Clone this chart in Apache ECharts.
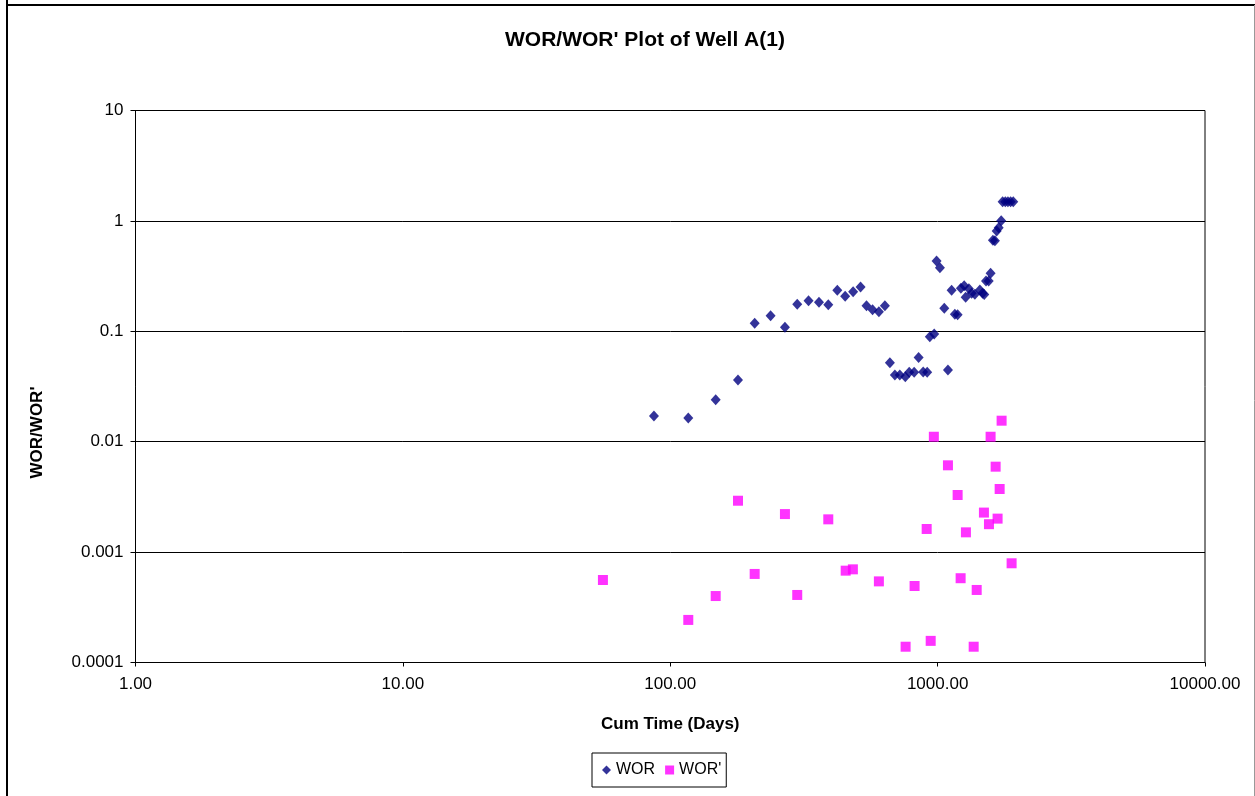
<!DOCTYPE html>
<html>
<head>
<meta charset="utf-8">
<script src="https://cdn.jsdelivr.net/npm/echarts@6/dist/echarts.min.js"></script>
<style>
html,body{margin:0;padding:0;background:#fff;}
#chart{width:1255px;height:796px;}
</style>
</head>
<body>
<div id="chart"></div>
<script>
// ---- Data ----
const worX = [86.9,116.8,147.9,179.2,206.9,237.3,268.5,298.5,329,360,390,421.5,451,483,515,542,571,603,635,663,692,722,757,783,817,849,883,914,935,971,991,1020,1059,1093,1128,1160,1188,1222,1257,1273,1309,1340,1378,1439,1473,1494,1517,1552,1578,1610,1638,1663,1692,1729,1750,1791,1832,1875,1918];
const worY = [0.0171,0.0164,0.0240,0.0362,0.118,0.138,0.109,0.176,0.189,0.183,0.174,0.235,0.2075,0.2285,0.252,0.1706,0.157,0.1506,0.1706,0.052,0.0402,0.0402,0.0388,0.0425,0.0425,0.058,0.0427,0.0425,0.0894,0.0946,0.433,0.377,0.162,0.0446,0.235,0.1426,0.141,0.245,0.259,0.203,0.243,0.221,0.217,0.237,0.221,0.215,0.286,0.285,0.335,0.667,0.66,0.811,0.869,1.004,1.49,1.49,1.49,1.49,1.49];
const worpX = [56.0,116.8,147.9,179.2,206.9,268.5,298.5,390,453,482,603,759,820,910,942,968,1093,1188,1219,1276,1364,1400,1490,1556,1578,1648,1676,1706,1735,1891];
const worpY = [0.000559,0.000243,0.0004,0.00292,0.000634,0.00221,0.000409,0.00198,0.000679,0.000698,0.000543,0.000139,0.000493,0.00162,0.000157,0.01109,0.00611,0.00329,0.00058,0.00151,0.000139,0.000454,0.00228,0.00179,0.01109,0.00594,0.00201,0.00373,0.0155,0.000792];
const yTickLabels = ['0.0001','0.001','0.01','0.1','1','10'];
const xTickLabels = ['1.00','10.00','100.00','1000.00','10000.00'];
const seriesNames = ['WOR', "WOR'"];
const titleText = "WOR/WOR' Plot of Well A(1)";
const xName = 'Cum Time (Days)';
const yName = "WOR/WOR'";

const FONT = "'Liberation Sans', Arial, sans-serif";
const pair = (xs, ys) => xs.map((x, i) => [x, ys[i]]);

const chart = echarts.init(document.getElementById('chart'), null, {renderer: 'canvas'});
chart.setOption({
  backgroundColor: '#fff',
  animation: false,
  title: {
    text: titleText,
    left: 505, top: 30, padding: 0,
    textStyle: {fontFamily: FONT, fontSize: 21, fontWeight: 'bold', color: '#000'}
  },
  legend: {
    data: [
      {name: seriesNames[0], icon: 'diamond'},
      {name: seriesNames[1], icon: 'rect'}
    ],
    left: 592, top: 753,
    padding: [9, 5, 9, 10],
    itemWidth: 9, itemHeight: 9, itemGap: 10,
    borderColor: '#000', borderWidth: 1,
    textStyle: {fontFamily: FONT, fontSize: 16, color: '#000'}
  },
  graphic: [
    {type: 'line', shape: {x1: 7, y1: 0, x2: 7, y2: 796}, style: {stroke: '#000', lineWidth: 2}},
    {type: 'line', shape: {x1: 6, y1: 5, x2: 1255, y2: 5}, style: {stroke: '#000', lineWidth: 2}},
    {type: 'line', shape: {x1: 1254.5, y1: 5, x2: 1254.5, y2: 796}, style: {stroke: '#999', lineWidth: 1}}
  ],
  grid: {
    left: 135.5, right: 50, top: 110.5, bottom: 133.5,
    show: true, borderColor: '#000', borderWidth: 1, backgroundColor: '#fff'
  },
  xAxis: {
    type: 'log', logBase: 10, min: 1, max: 10000,
    name: xName, nameLocation: 'middle', nameGap: 53,
    nameTextStyle: {fontFamily: FONT, fontSize: 17, fontWeight: 'bold', color: '#000'},
    axisLine: {lineStyle: {color: '#000', width: 1}},
    axisTick: {show: true, length: 4, lineStyle: {color: '#000'}},
    minorTick: {show: false},
    splitLine: {show: false},
    axisLabel: {
      fontFamily: FONT, fontSize: 17, color: '#000', margin: 13,
      formatter: v => xTickLabels[Math.round(Math.log10(v))]
    }
  },
  yAxis: {
    type: 'log', logBase: 10, min: 0.0001, max: 10,
    name: yName, nameLocation: 'middle', nameGap: 90, nameRotate: 90,
    nameTextStyle: {fontFamily: FONT, fontSize: 17, fontWeight: 'bold', color: '#000', padding: [0, 92, 0, 0]},
    axisLine: {lineStyle: {color: '#000', width: 1}},
    axisTick: {show: true, length: 5, lineStyle: {color: '#000'}},
    splitLine: {show: true, lineStyle: {color: '#000', width: 1}},
    axisLabel: {
      fontFamily: FONT, fontSize: 17, color: '#000', margin: 12,
      formatter: v => yTickLabels[Math.round(Math.log10(v)) + 4]
    }
  },
  series: [
    {
      name: seriesNames[0], type: 'scatter', data: pair(worX, worY),
      symbol: 'diamond', symbolSize: [10, 11],
      itemStyle: {color: '#000080'}, z: 3
    },
    {
      name: seriesNames[1], type: 'scatter', data: pair(worpX, worpY),
      symbol: 'rect', symbolSize: 10,
      itemStyle: {color: '#FF00FF'}, z: 2
    }
  ]
});
</script>
</body>
</html>
